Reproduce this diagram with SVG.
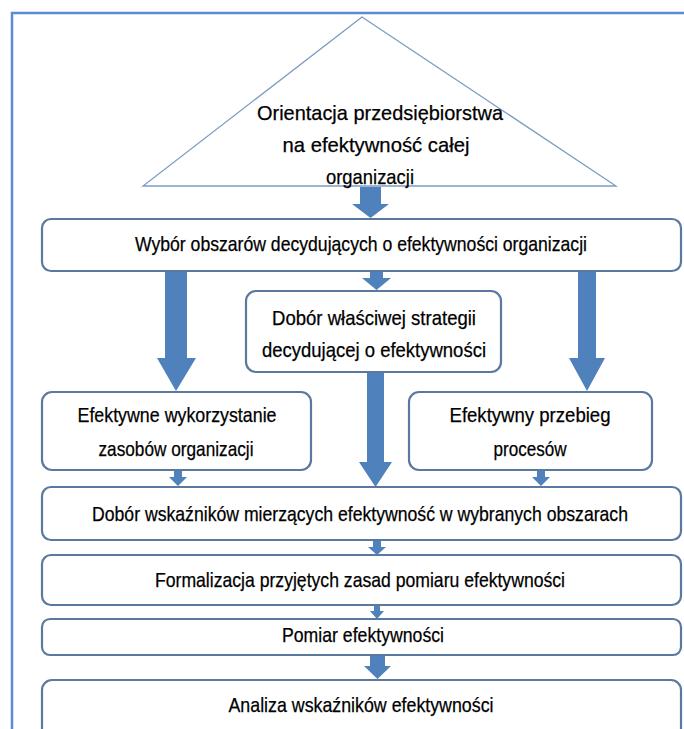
<svg xmlns="http://www.w3.org/2000/svg" width="684" height="729" viewBox="0 0 684 729">
<style>
.box{fill:#fff;stroke:#5a799f;stroke-width:2.2}
.tri{fill:#fff;stroke:#7d9cc4;stroke-width:1.3}
.arr{fill:#4f81bd}
.t{font-family:"Liberation Sans",Arial,sans-serif;font-size:21px;fill:#000;stroke:#000;stroke-width:0.25;text-anchor:middle}
.frame{fill:none;stroke:#5b8bd0;stroke-width:2.5}
</style>
<rect width="684" height="729" fill="#fff"/>
<path class="frame" d="M12,729 V13 H684"/>
<g id="n-orientacja">
<polygon class="tri" points="362,17 143,186 616,186"/>
<text class="t" x="380" y="120" textLength="246" lengthAdjust="spacingAndGlyphs">Orientacja przedsiębiorstwa</text>
<text class="t" x="376" y="152" textLength="187" lengthAdjust="spacingAndGlyphs">na efektywność całej</text>
<text class="t" x="370" y="184" textLength="88" lengthAdjust="spacingAndGlyphs">organizacji</text>
</g>
<g id="n-wybor">
<rect class="box" x="42" y="219" width="639" height="52" rx="9"/>
<text class="t" x="361" y="251" textLength="452" lengthAdjust="spacingAndGlyphs">Wybór obszarów decydujących  o efektywności organizacji</text>
</g>
<g id="n-strategia">
<rect class="box" x="246" y="291" width="255" height="81" rx="10"/>
<text class="t" x="374" y="325" textLength="204" lengthAdjust="spacingAndGlyphs">Dobór właściwej strategii</text>
<text class="t" x="374" y="357" textLength="224" lengthAdjust="spacingAndGlyphs">decydującej  o efektywności</text>
</g>
<g id="n-zasoby">
<rect class="box" x="42" y="392" width="269" height="78" rx="10"/>
<text class="t" x="177" y="422" textLength="199" lengthAdjust="spacingAndGlyphs">Efektywne wykorzystanie</text>
<text class="t" x="176" y="456" textLength="155" lengthAdjust="spacingAndGlyphs">zasobów organizacji</text>
</g>
<g id="n-procesy">
<rect class="box" x="409" y="392" width="243" height="78" rx="10"/>
<text class="t" x="530" y="422" textLength="161" lengthAdjust="spacingAndGlyphs">Efektywny przebieg</text>
<text class="t" x="530" y="456" textLength="73" lengthAdjust="spacingAndGlyphs">procesów</text>
</g>
<g id="n-wskazniki">
<rect class="box" x="42" y="487" width="639" height="53" rx="9"/>
<text class="t" x="360" y="521" textLength="536" lengthAdjust="spacingAndGlyphs">Dobór wskaźników mierzących efektywność w wybranych obszarach</text>
</g>
<g id="n-formalizacja">
<rect class="box" x="42" y="555" width="639" height="50" rx="9"/>
<text class="t" x="360" y="587" textLength="410" lengthAdjust="spacingAndGlyphs">Formalizacja  przyjętych zasad pomiaru efektywności</text>
</g>
<g id="n-pomiar">
<rect class="box" x="42" y="619" width="639" height="36" rx="8"/>
<text class="t" x="363" y="642" textLength="162" lengthAdjust="spacingAndGlyphs">Pomiar efektywności</text>
</g>
<g id="n-analiza">
<rect class="box" x="42" y="680" width="639" height="60" rx="10"/>
<text class="t" x="361" y="712" textLength="265" lengthAdjust="spacingAndGlyphs">Analiza  wskaźników  efektywności</text>
</g>
<g id="connectors">
<polygon class="arr" points="360,187 381,187 381,204 389,204 370.5,218 352,204 360,204"/>
<polygon class="arr" points="370,272 383,272 383,278 391,278 376.5,290 362,278 370,278"/>
<polygon class="arr" points="165,272 187,272 187,358 196,358 176,391 157,358 165,358"/>
<polygon class="arr" points="578,272 596,272 596,358 605,358 587,391 569,358 578,358"/>
<polygon class="arr" points="367,373 384,373 384,462 392,462 375.5,487 359,462 367,462"/>
<polygon class="arr" points="174,471 182,471 182,477 187,477 178,486 169,477 174,477"/>
<polygon class="arr" points="537,471 545,471 545,477 550,477 541,486 532,477 537,477"/>
<polygon class="arr" points="373,541 381,541 381,547 386,547 377,555 368,547 373,547"/>
<polygon class="arr" points="374,606 380,606 380,611 384,611 377,619 370,611 374,611"/>
<polygon class="arr" points="370,656 385,656 385,666 391,666 377.5,679 364,666 370,666"/>
</g>
</svg>
